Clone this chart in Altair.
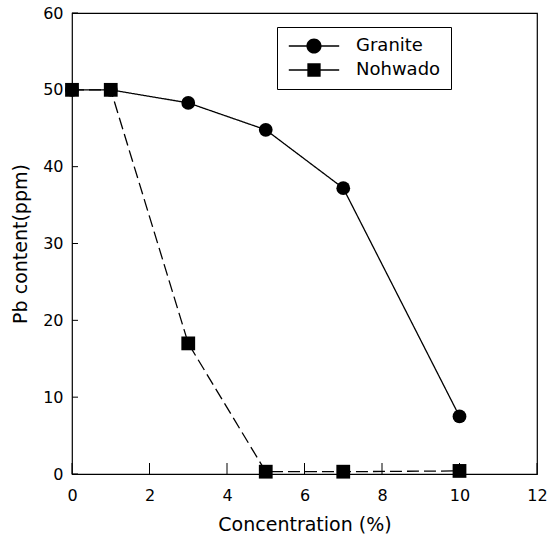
import altair as alt
import pandas as pd

# Data
conc = [0, 1, 3, 5, 7, 10]
granite = [50.0, 50.0, 48.3, 44.8, 37.2, 7.5]
nohwado = [50.0, 50.0, 17.0, 0.3, 0.3, 0.4]
series_names = ["Granite", "Nohwado"]
x_ticks = [0, 2, 4, 6, 8, 10, 12]
y_ticks = [0, 10, 20, 30, 40, 50, 60]

rows = []
for i, c in enumerate(conc):
    rows.append({"x": c, "pb": granite[i], "series": "Granite", "ord": 0})
for i, c in enumerate(conc):
    rows.append({"x": c, "pb": nohwado[i], "series": "Nohwado", "ord": 1})
df = pd.DataFrame(rows)

W, H = 465, 461
FONT = "DejaVu Sans"

xscale = alt.Scale(domain=[0, 12], nice=False, zero=False)
yscale = alt.Scale(domain=[0, 60], nice=False, zero=False)

xaxis = alt.Axis(values=x_ticks, title="Concentration (%)", ticks=False, tickSize=0,
                 domain=False, grid=False, labelFont=FONT, labelFontSize=16,
                 labelColor="black", labelPadding=13, titleFont=FONT, titleFontSize=19,
                 titleFontWeight="normal", titleColor="black", titlePadding=12,
                 labelFlush=False)
yaxis = alt.Axis(values=y_ticks, title="Pb content(ppm)", ticks=False, tickSize=0,
                 domain=False, grid=False, labelFont=FONT, labelFontSize=16,
                 labelColor="black", labelPadding=9, titleFont=FONT, titleFontSize=19,
                 titleFontWeight="normal", titleColor="black", titlePadding=12,
                 labelFlush=False)

lines = alt.Chart(df).mark_line(color="black", strokeWidth=1.3).encode(
    x=alt.X("x:Q", scale=xscale, axis=xaxis),
    y=alt.Y("pb:Q", scale=yscale, axis=yaxis),
    detail="series:N",
    order="x:Q",
    strokeDash=alt.StrokeDash("series:N",
                              scale=alt.Scale(domain=series_names, range=[[1, 0], [12, 5]]),
                              legend=None),
)

points = alt.Chart(df).mark_point(filled=True, color="black", size=190, opacity=1).encode(
    x=alt.X("x:Q", scale=xscale),
    y=alt.Y("pb:Q", scale=yscale),
    order="ord:Q",
    shape=alt.Shape("series:N",
                    scale=alt.Scale(domain=series_names, range=["circle", "square"]),
                    legend=None),
)

# legend glyphs: line with marker, as symbol paths
circle_path = ("M-3.6,-0.1H3.6V0.1H-3.6Z "
               "M1.08,0 A1.08,1.08 0 1,1 -1.08,0 A1.08,1.08 0 1,1 1.08,0Z")
square_path = ("M-3.6,-0.1H3.6V0.1H-3.6Z "
               "M-0.95,-0.95H0.95V0.95H-0.95Z")

legend_layer = alt.Chart(df).mark_point(filled=True, color="black", size=196, opacity=1).encode(
    x=alt.X("x:Q", scale=xscale),
    y=alt.Y("pb:Q", scale=yscale),
    shape=alt.Shape("series:N",
                    scale=alt.Scale(domain=series_names, range=[circle_path, square_path]),
                    legend=alt.Legend(title=None, orient="none", legendX=205, legendY=14,
                                      strokeColor="black", padding=10,
                                      labelFont=FONT, labelFontSize=18, labelColor="black",
                                      symbolSize=196, symbolFillColor="black",
                                      symbolStrokeColor="black", symbolStrokeWidth=0.3,
                                      symbolOpacity=1,
                                      symbolOffset=18, labelOffset=33, rowPadding=6)),
).transform_filter("datum.x < 0")

xt = alt.Chart(pd.DataFrame({"t": x_ticks})).mark_rule(color="black", strokeWidth=1).encode(
    x=alt.X("t:Q", scale=xscale), y=alt.value(H), y2=alt.value(H - 11))
yt = alt.Chart(pd.DataFrame({"t": y_ticks})).mark_rule(color="black", strokeWidth=1).encode(
    y=alt.Y("t:Q", scale=yscale), x=alt.value(0), x2=alt.value(6))

chart = alt.layer(xt, yt, lines, points, legend_layer).resolve_scale(
    shape="independent"
).properties(
    width=W, height=H,
    autosize=alt.AutoSizeParams(type="none"),
    padding={"left": 72, "top": 13, "right": 11, "bottom": 72},
    background="white",
).configure_view(stroke="black", strokeWidth=1.2)

chart.save("out.html", embed_options={"renderer": "svg", "actions": False})
